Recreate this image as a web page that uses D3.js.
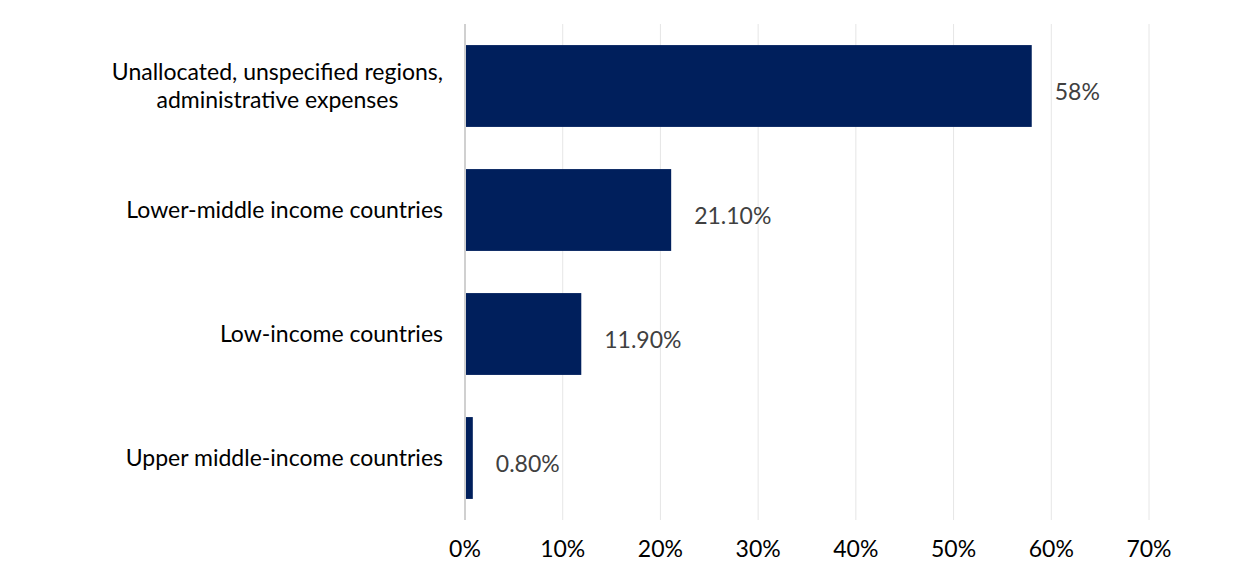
<!DOCTYPE html>
<html><head><meta charset="utf-8">
<script src="https://cdn.jsdelivr.net/npm/d3@7"></script>
<style>body{margin:0;background:#fff}text{font-family:Lato,"Open Sans",sans-serif}</style>
</head><body>
<svg id="c" width="1245" height="581"></svg>
<script>
const categories = [["Unallocated, unspecified regions,","administrative expenses"],["Lower-middle income countries"],["Low-income countries"],["Upper middle-income countries"]];
const values = [58, 21.1, 11.9, 0.8];
const valueLabels = ["58%","21.10%","11.90%","0.80%"];
const ticks = [0,10,20,30,40,50,60,70];

const svg = d3.select("#c");
const m = {l:465, r:1149, t:24, b:520};
const fs = "23px";
const x = d3.scaleLinear().domain([0,70]).range([m.l, m.r]);
const y = d3.scaleBand().domain(d3.range(categories.length)).range([m.t, m.b]).paddingInner(0.34).paddingOuter(0.17);

svg.append("g").selectAll("line").data(ticks.slice(1)).join("line")
  .attr("x1", d=>x(d)).attr("x2", d=>x(d)).attr("y1", m.t).attr("y2", m.b)
  .attr("stroke", "#e6e6e6").attr("stroke-width", 1);

svg.append("g").selectAll("rect").data(values).join("rect")
  .attr("x", x(0)).attr("y", (d,i)=>y(i)).attr("width", d=>x(d)-x(0)).attr("height", y.bandwidth())
  .attr("fill", "#001f5c");

svg.append("line").attr("x1", x(0)).attr("x2", x(0)).attr("y1", m.t).attr("y2", m.b)
  .attr("stroke", "#d0d0d0").attr("stroke-width", 2);

svg.append("g").selectAll("text").data(values).join("text")
  .attr("x", d=>x(d)+23).attr("y", (d,i)=>y(i)+y.bandwidth()/2+6).attr("dy","0.35em")
  .attr("fill","#404040").attr("font-size",fs).text((d,i)=>valueLabels[i]);

const labelRight = 443;
const cat = svg.append("g").selectAll("text").data(categories).join("text")
  .attr("fill","#000").attr("font-size",fs)
  .attr("y", (d,i)=>y(i)+y.bandwidth()/2);
cat.each(function(d){
  const t = d3.select(this);
  const spans = d.map((line,k)=>t.append("tspan").attr("dy", k===0 ? ((0.35 - (d.length-1)*0.6)+"em") : "1.2em").text(line));
  if (d.length === 1) {
    t.attr("text-anchor","end"); spans[0].attr("x", labelRight);
  } else {
    const w = d3.max(spans, s=>s.node().getComputedTextLength());
    t.attr("text-anchor","middle"); spans.forEach(s=>s.attr("x", labelRight - w/2));
  }
});

svg.append("g").selectAll("text").data(ticks).join("text")
  .attr("x", d=>x(d)).attr("y", 549).attr("dy","0.35em").attr("text-anchor","middle")
  .attr("fill","#000").attr("font-size",fs).text(d=>d+"%");
</script>
</body></html>
